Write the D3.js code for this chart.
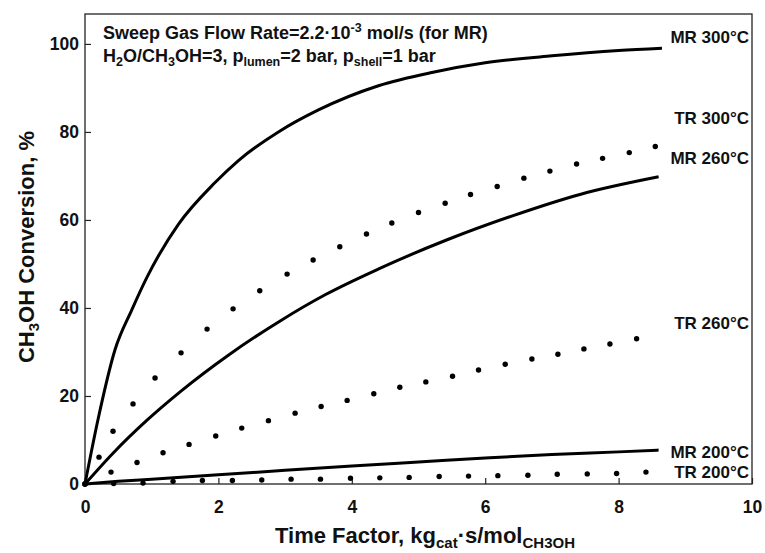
<!DOCTYPE html>
<html>
<head>
<meta charset="utf-8">
<script src="https://cdn.jsdelivr.net/npm/d3@7/dist/d3.min.js"></script>
<style>
  body { margin: 0; background: #fff; }
  text { font-family: "Liberation Sans", Arial, sans-serif; font-weight: bold; fill: #111; }
</style>
</head>
<body>
<div id="chart"></div>
<script>
// values (time factor, conversion %)
var mr300X = [0, 0.2, 0.45, 0.7, 0.93, 1.4, 1.95, 2.3, 2.9, 3.5, 4.4, 5.2, 6, 7, 8, 8.65];
var mr300Y = [0, 15, 30.5, 39.5, 47, 59, 68.5, 73.5, 80, 85, 90.5, 93.5, 95.7, 97.3, 98.5, 99];

var mr260X = [0, 0.42, 0.93, 1.43, 2.17, 2.92, 3.6, 4.42, 5.43, 6.42, 7.42, 8.6];
var mr260Y = [0, 7, 14.5, 21, 29.5, 37, 43, 49, 55.5, 61, 65.8, 69.8];

var mr200X = [0, 0.5, 1, 2, 3, 4, 5, 6, 7, 8, 8.6];
var mr200Y = [0, 0.6, 1.1, 2.1, 3.1, 4.1, 5, 5.9, 6.7, 7.3, 7.7];

var tr300X = [0, 0.21, 0.42, 0.72, 1.05, 1.44, 1.83, 2.22, 2.62, 3.03, 3.42, 3.82, 4.22, 4.6, 5.0, 5.4, 5.78, 6.18, 6.58, 6.97, 7.37, 7.76, 8.16, 8.55];
var tr300Y = [0, 6.1, 12, 18.2, 24.1, 29.8, 35.2, 39.8, 43.9, 47.7, 50.9, 53.9, 56.8, 59.3, 61.7, 63.8, 65.8, 67.6, 69.5, 71.1, 72.7, 74.0, 75.3, 76.7];

var tr260X = [0, 0.39, 0.78, 1.17, 1.56, 1.96, 2.35, 2.75, 3.15, 3.54, 3.93, 4.33, 4.72, 5.11, 5.51, 5.9, 6.3, 6.7, 7.09, 7.48, 7.87, 8.27];
var tr260Y = [0, 2.7, 4.9, 7.1, 9.0, 10.9, 12.7, 14.4, 16.1, 17.6, 19.0, 20.5, 22.0, 23.2, 24.5, 25.9, 27.2, 28.4, 29.5, 30.7, 31.8, 33.0];

var tr200X = [0, 0.43, 0.87, 1.32, 1.76, 2.21, 2.65, 3.09, 3.53, 3.98, 4.42, 4.86, 5.31, 5.75, 6.19, 6.64, 7.08, 7.53, 7.97, 8.41];
var tr200Y = [0, 0.1, 0.2, 0.6, 0.8, 0.8, 0.9, 1.1, 1.1, 1.3, 1.4, 1.5, 1.7, 1.8, 1.9, 2.0, 2.2, 2.3, 2.4, 2.7];

var xTicks = [0, 2, 4, 6, 8, 10];
var yTicks = [0, 20, 40, 60, 80, 100];

var width = 765, height = 553;

var svg = d3.select("#chart").append("svg")
    .attr("width", width)
    .attr("height", height);

var x = d3.scaleLinear().domain([0, 10]).range([85, 752]);
var y = d3.scaleLinear().domain([0, 106.8]).range([484, 14]);

function pts(xs, ys) {
  return xs.map(function(v, i) { return [v, ys[i]]; });
}

// frame
svg.append("rect")
   .attr("x", x(0)).attr("y", y(106.8))
   .attr("width", x(10) - x(0)).attr("height", y(0) - y(106.8))
   .attr("fill", "none").attr("stroke", "#222").attr("stroke-width", 1.3);

// axes (ticks point inward)
var xAxis = svg.append("g")
   .attr("transform", "translate(0," + y(0) + ")")
   .call(d3.axisBottom(x).tickValues(xTicks).tickSizeInner(-6).tickSizeOuter(0).tickPadding(17));
var yAxis = svg.append("g")
   .attr("transform", "translate(" + x(0) + ",0)")
   .call(d3.axisLeft(y).tickValues(yTicks).tickSizeInner(-6).tickSizeOuter(0).tickPadding(6));

[xAxis, yAxis].forEach(function(a) {
  a.select(".domain").remove();
  a.selectAll("line").attr("stroke", "#222").attr("stroke-width", 1.2);
  a.selectAll("text").attr("font-size", 17.5).attr("font-family", "Liberation Sans, Arial, sans-serif")
   .attr("font-weight", "bold").attr("fill", "#111");
});

// solid lines (MR)
var line = d3.line()
    .x(function(d) { return x(d[0]); })
    .y(function(d) { return y(d[1]); })
    .curve(d3.curveMonotoneX);

[[mr300X, mr300Y], [mr260X, mr260Y], [mr200X, mr200Y]].forEach(function(s) {
  svg.append("path")
     .datum(pts(s[0], s[1]))
     .attr("d", line)
     .attr("fill", "none")
     .attr("stroke", "#000")
     .attr("stroke-width", 3);
});

// dotted series (TR)
[[tr300X, tr300Y], [tr260X, tr260Y], [tr200X, tr200Y]].forEach(function(s) {
  svg.append("g").selectAll("circle")
     .data(pts(s[0], s[1]))
     .enter().append("circle")
     .attr("cx", function(d) { return x(d[0]); })
     .attr("cy", function(d) { return y(d[1]); })
     .attr("r", 2.7)
     .attr("fill", "#000");
});

// series labels
var labels = [
  {t: "MR 300°C", v: 101.5},
  {t: "TR 300°C", v: 83.3},
  {t: "MR 260°C", v: 74},
  {t: "TR 260°C", v: 36.7},
  {t: "MR 200°C", v: 7.3},
  {t: "TR 200°C", v: 2.7}
];
svg.selectAll(".lbl").data(labels).enter().append("text")
   .attr("class", "lbl")
   .attr("x", x(10) - 3)
   .attr("y", function(d) { return y(d.v); })
   .attr("dy", "0.36em")
   .attr("text-anchor", "end")
   .attr("font-size", 17)
   .text(function(d) { return d.t; });

// annotation
var a1 = svg.append("text").attr("x", 103).attr("y", 39).attr("font-size", 18);
a1.append("tspan").text("Sweep Gas Flow Rate=2.2·10");
a1.append("tspan").attr("dy", -7).attr("font-size", 12.5).text("-3");
a1.append("tspan").attr("dy", 7).text(" mol/s (for MR)");

var a2 = svg.append("text").attr("x", 103).attr("y", 62).attr("font-size", 18);
a2.append("tspan").text("H");
a2.append("tspan").attr("dy", 4).attr("font-size", 12.5).text("2");
a2.append("tspan").attr("dy", -4).text("O/CH");
a2.append("tspan").attr("dy", 4).attr("font-size", 12.5).text("3");
a2.append("tspan").attr("dy", -4).text("OH=3, p");
a2.append("tspan").attr("dy", 4).attr("font-size", 12.5).text("lumen");
a2.append("tspan").attr("dy", -4).text("=2 bar, p");
a2.append("tspan").attr("dy", 4).attr("font-size", 12.5).text("shell");
a2.append("tspan").attr("dy", -4).text("=1 bar");

// axis titles
var xt = svg.append("text").attr("x", 425).attr("y", 543)
   .attr("text-anchor", "middle").attr("font-size", 22);
xt.append("tspan").text("Time Factor, kg");
xt.append("tspan").attr("dy", 5).attr("font-size", 15).text("cat");
xt.append("tspan").attr("dy", -5).text("·s/mol");
xt.append("tspan").attr("dy", 5).attr("font-size", 15).text("CH3OH");

var yt = svg.append("text")
   .attr("transform", "translate(34,247) rotate(-90)")
   .attr("text-anchor", "middle").attr("font-size", 22);
yt.append("tspan").text("CH");
yt.append("tspan").attr("dy", 5).attr("font-size", 15).text("3");
yt.append("tspan").attr("dy", -5).text("OH Conversion, %");
</script>
</body>
</html>
